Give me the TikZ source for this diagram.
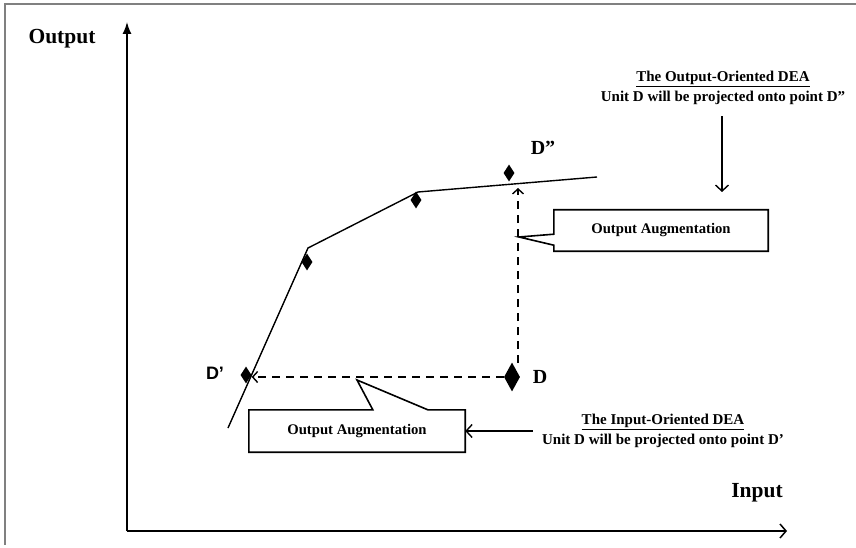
\documentclass[tikz,border=0pt]{standalone}
\usepackage{fontspec}
\setmainfont{Liberation Serif}
\newfontfamily\labelsans{Liberation Sans}
\usetikzlibrary{positioning,calc,arrows.meta,shapes.geometric}

\tikzset{
  axis/.style={line width=1.5pt},
  axislabel/.style={font=\bfseries\fontsize{21.5}{24}\selectfont},
  frontier/.style={line width=1.4pt},
  proj/.style={line width=1.4pt, dash pattern=on 8pt off 6pt, -{Straight Barb[length=5pt,width=11pt]}},
  dmu/.style={diamond, fill=black, inner sep=0pt, minimum width=11pt, minimum height=17pt},
  dmulabel/.style={font=\bfseries\fontsize{20}{22}\selectfont},
  augbox/.style={rectangle, minimum width=214pt, minimum height=41pt, font=\bfseries\fontsize{14.7}{16}\selectfont},
  boxline/.style={line width=1.6pt, line join=miter},
  note/.style={font=\bfseries\fontsize{15}{20}\selectfont, align=center},
  pointer/.style={line width=1.4pt, -{Straight Barb[length=6pt,width=13pt]}},
}

\begin{document}
\begin{tikzpicture}[x=1pt,y=1pt]
\useasboundingbox (0,0) rectangle (856,547);
% frame
\draw[gray, line width=1.2pt] (856,543) -- (5,543) -- (5,2);

% axes
\coordinate (O) at (127,16);
\coordinate (ytip) at (127,525);
\coordinate (xtip) at (787,16);
\draw[axis,-{Latex[length=12pt,width=9pt]}] (O) -- (ytip);
\draw[axis,-{Straight Barb[length=6pt,width=14pt]}] (O) -- (xtip);
\node[axislabel] (ylab) at (62,508) {Output};
\node[axislabel] (xlab) at (757,54) {Input};

% frontier
\coordinate (f0) at (228,119);
\coordinate (f1) at (308,299);
\coordinate (f2) at (418,355);
\coordinate (f3) at (597,370);
\draw[frontier] (f0) -- (f1) -- (f2) -- (f3);

% units
\node[dmu] (A) at (307,285) {};
\node[dmu] (B) at (416,347) {};
\node[dmu] (Dpp) at (509,374) {};
\node[dmu] (Dp) at (246,172) {};
\node[dmu, minimum width=16pt, minimum height=29pt] (D) at (512,170) {};
\node[dmulabel] (Dpplab) at (543,399) {D”};
\node[dmulabel] (Dlab) at (540,170) {D};
\node[dmulabel, font=\labelsans\bfseries\fontsize{18}{20}\selectfont] (Dplab) at (215,174) {D’};

% projections
\coordinate (vD) at (518,184);
\coordinate (vDpp) at (518,359);
\draw[proj] (D.west) -- (D.west -| Dp.east);
\draw[proj] (vD) -- (vDpp);

% output augmentation callout
\node[augbox] (outbox) at (661,316.5) {Output Augmentation};
\coordinate (outtip) at (519,310);
\draw[boxline] (outbox.north west) -- (outbox.north east) -- (outbox.south east)
  -- (outbox.south west) -- ++(0,6) -- (outtip) -- ($(outbox.south west)+(0,17)$) -- cycle;

% input side callout
\node[augbox, minimum width=216pt, minimum height=42pt] (inbox) at (357,116) {Output Augmentation};
\coordinate (intip) at (357,167);
\draw[boxline] (inbox.south west) -- (inbox.north west) -- ++(124,0) -- (intip)
  -- ($(inbox.north west)+(179,0)$) -- (inbox.north east) -- (inbox.south east) -- cycle;

% notes
\node[note] (outnote) at (723,459) {\underline{The Output-Oriented DEA}\\Unit D will be projected onto point D”};
\coordinate (outaim) at (722,355);
\draw[pointer] ([yshift=-8pt]outnote.south -| outaim) -- (outaim);

\node[note] (innote) at (663,116) {\underline{The Input-Oriented DEA}\\Unit D will be projected onto point D’};
\draw[pointer] ([xshift=-6pt]innote.west) -- (inbox.east);
\end{tikzpicture}
\end{document}
